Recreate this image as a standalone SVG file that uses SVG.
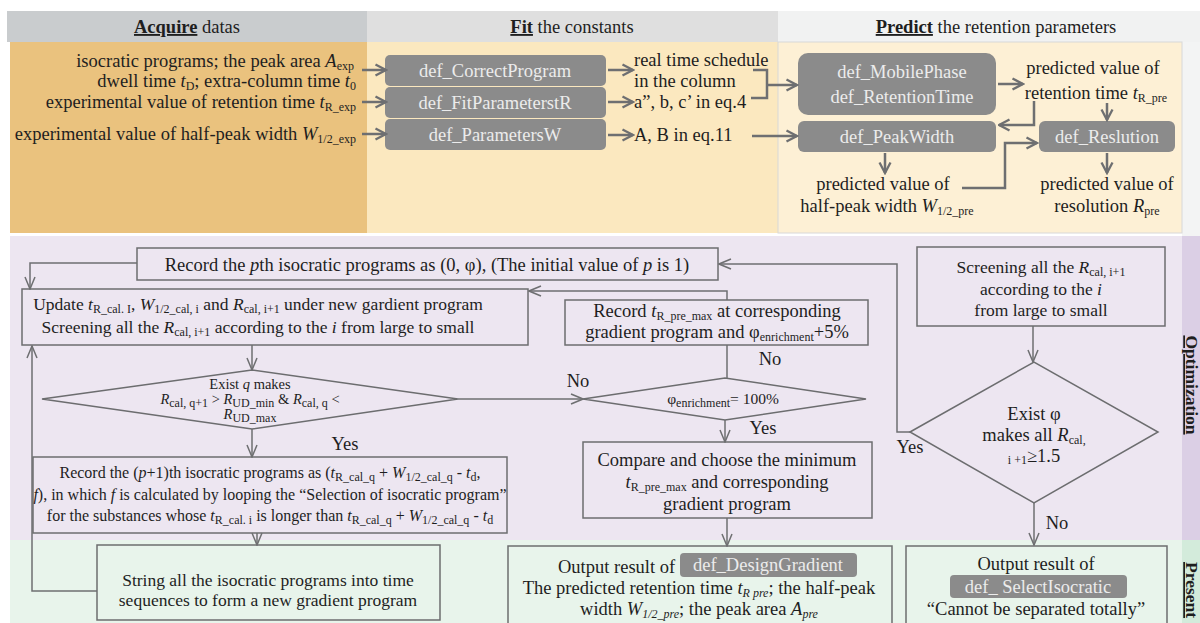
<svg xmlns="http://www.w3.org/2000/svg" width="1200" height="623" viewBox="0 0 1200 623">
<defs>
<style>
.t{font-family:"Liberation Serif","Times New Roman",serif;font-size:18.5px;fill:#1e1e1e}
.m{text-anchor:middle}
.e{text-anchor:end}
.md{font-size:17.5px}
.sm{font-size:16px}
.xs{font-size:14.5px}
.d2{font-size:15.5px}
.sb{font-size:12px}
.i{font-style:italic}
.b{font-weight:bold}
.u{text-decoration:underline}
.gr{fill:#8b8b8b}
.gt{font-family:"Liberation Serif","Times New Roman",serif;font-size:18.5px;fill:#ececec;text-anchor:middle}
.bx{fill:none;stroke:#6c6d6f;stroke-width:1.5}
.ln{fill:none;stroke:#6e6f71;stroke-width:1.5}
.lt{fill:none;stroke:#6e6f71;stroke-width:2.5}
</style>
<marker id="a" viewBox="0 0 14 14" refX="13" refY="7" markerWidth="14" markerHeight="14" markerUnits="userSpaceOnUse" orient="auto">
<path d="M1,2 L13,7 L1,12" fill="none" stroke="#6e6f71" stroke-width="1.5"/>
</marker>
<marker id="b" viewBox="0 0 14 14" refX="12.5" refY="7" markerWidth="14" markerHeight="14" markerUnits="userSpaceOnUse" orient="auto">
<path d="M2,1.5 L12.5,7 L2,12.5" fill="none" stroke="#6e6f71" stroke-width="2.3"/>
</marker>
</defs>

<g id="background">
<rect x="0" y="0" width="1200" height="623" fill="#ffffff"/>
<rect x="7" y="11" width="360" height="31" fill="#c9ccce"/>
<rect x="367" y="11" width="411" height="31" fill="#dfdfdf"/>
<rect x="778" y="11" width="422" height="31" fill="#f1f2f2"/>
<rect x="1182" y="42" width="18" height="194" fill="#f3f4f4"/>
<rect x="10" y="42" width="357" height="191" fill="#eac27e"/>
<rect x="367" y="42" width="411" height="191" fill="#fbe8bf"/>
<rect x="778" y="42" width="404" height="191" fill="#fdf0d5" stroke="#d8d8d8" stroke-width="1"/>
<rect x="10" y="236" width="1172" height="304" fill="#ede6f1"/>
<rect x="1182" y="236" width="18" height="304" fill="#dbcfe5"/>
<rect x="10" y="540" width="1172" height="83" fill="#e8f4eb"/>
<rect x="1182" y="540" width="18" height="83" fill="#d3ebdb"/>
</g>

<g id="headers">
<text class="t m" x="187" y="33"><tspan class="b u">Acquire</tspan> datas</text>
<text class="t m" x="572" y="33"><tspan class="b u">Fit</tspan> the constants</text>
<text class="t m" x="996" y="33"><tspan class="b u">Predict</tspan> the retention parameters</text>
<text class="t m b u md" transform="translate(1186,385) rotate(90)">Optimization</text>
<text class="t m b u md" transform="translate(1186,590) rotate(90)">Present</text>
</g>

<g id="inputs">
<text class="t e" x="354" y="67">isocratic programs; the peak area <tspan class="i">A</tspan><tspan class="sb" dy="3">exp</tspan></text>
<text class="t e" x="356" y="87">dwell time <tspan class="i">t</tspan><tspan class="sb" dy="3">D</tspan><tspan dy="-3">; extra-column time </tspan><tspan class="i">t</tspan><tspan class="sb" dy="3">0</tspan></text>
<text class="t e" x="356" y="108">experimental value of retention time <tspan class="i">t</tspan><tspan class="sb" dy="3">R_exp</tspan></text>
<text class="t e" x="356" y="140">experimental value of half-peak width <tspan class="i">W</tspan><tspan class="sb" dy="3">1/2_exp</tspan></text>
</g>

<g id="def_CorrectProgram">
<rect class="gr" x="385" y="55" width="221" height="31" rx="5"/>
<text class="gt" x="495" y="77">def_CorrectProgram</text>
</g>
<g id="def_FitParameterstR">
<rect class="gr" x="385" y="87" width="221" height="31" rx="5"/>
<text class="gt" x="495" y="109">def_FitParameterstR</text>
</g>
<g id="def_ParametersW">
<rect class="gr" x="385" y="119" width="221" height="31" rx="5"/>
<text class="gt" x="495" y="141">def_ParametersW</text>
</g>

<g id="fit_outputs">
<text class="t" x="634" y="66">real time schedule</text>
<text class="t" x="634" y="87">in the column</text>
<text class="t" x="634" y="108">a”, b, c’ in eq.4</text>
<text class="t" x="634" y="141">A, B in eq.11</text>
</g>

<g id="def_MobilePhase">
<rect class="gr" x="798" y="53" width="198" height="62" rx="10"/>
<text class="gt md" x="902" y="78">def_MobilePhase</text>
<text class="gt md" x="902" y="103">def_RetentionTime</text>
</g>
<g id="def_PeakWidth">
<rect class="gr" x="798" y="121" width="198" height="31" rx="6"/>
<text class="gt" x="897" y="143">def_PeakWidth</text>
</g>
<g id="def_Reslution">
<rect class="gr" x="1039" y="121" width="136" height="31" rx="6"/>
<text class="gt" x="1107" y="143">def_Reslution</text>
</g>

<g id="predict_outputs">
<text class="t m" x="1093" y="74">predicted value of</text>
<text class="t m" x="1096" y="99">retention time <tspan class="i">t</tspan><tspan class="sb" dy="3">R_pre</tspan></text>
<text class="t m" x="883" y="190">predicted value of</text>
<text class="t m" x="887" y="212">half-peak width <tspan class="i">W</tspan><tspan class="sb" dy="3">1/2_pre</tspan></text>
<text class="t m" x="1107" y="190">predicted value of</text>
<text class="t m" x="1107" y="212">resolution <tspan class="i">R</tspan><tspan class="sb" dy="3">pre</tspan></text>
</g>

<g id="record_p">
<rect class="bx" x="137" y="248" width="581" height="32"/>
<text class="t m" x="427" y="271">Record the <tspan class="i">p</tspan>th isocratic programs as (0, φ), (The initial value of <tspan class="i">p</tspan> is 1)</text>
</g>
<g id="update">
<rect class="bx" x="22" y="289" width="506" height="56"/>
<text class="t m md" x="258" y="310">Update <tspan class="i">t</tspan><tspan class="sb" dy="3">R_cal. I</tspan><tspan dy="-3">, </tspan><tspan class="i">W</tspan><tspan class="sb" dy="3">1/2_cal, i</tspan><tspan dy="-3">  and </tspan><tspan class="i">R</tspan><tspan class="sb" dy="3">cal, i+1</tspan><tspan dy="-3"> under new gardient program</tspan></text>
<text class="t m md" x="258" y="333">Screening all the <tspan class="i">R</tspan><tspan class="sb" dy="3">cal, i+1</tspan><tspan dy="-3"> according to the </tspan><tspan class="i">i</tspan> from large to small</text>
</g>
<g id="record_tr">
<rect class="bx" x="565" y="300" width="303" height="45"/>
<text class="t m" x="717" y="317">Record <tspan class="i">t</tspan><tspan class="sb" dy="3">R_pre_max</tspan><tspan dy="-3"> at corresponding</tspan></text>
<text class="t m" x="717" y="338">gradient program  and φ<tspan class="sb" dy="3">enrichment</tspan><tspan dy="-3">+5%</tspan></text>
</g>
<g id="exist_q">
<polygon class="bx" points="42,399 252,370 458,399 252,429"/>
<text class="t m xs" x="250" y="389">Exist <tspan class="i">q</tspan> makes</text>
<text class="t m xs" x="250" y="404"><tspan class="i">R</tspan><tspan class="sb" dy="3">cal, q+1</tspan><tspan dy="-3"> &gt; </tspan><tspan class="i">R</tspan><tspan class="sb" dy="3">UD_min</tspan><tspan dy="-3"> &amp; </tspan><tspan class="i">R</tspan><tspan class="sb" dy="3">cal, q</tspan><tspan dy="-3"> &lt;</tspan></text>
<text class="t m xs" x="250" y="419"><tspan class="i">R</tspan><tspan class="sb" dy="3">UD_max</tspan></text>
</g>
<g id="phi_100">
<polygon class="bx" points="583,399 725,378 866,399 725,420"/>
<text class="t m d2" x="723" y="404">φ<tspan class="sb" dy="3">enrichment</tspan><tspan dy="-3">= 100%</tspan></text>
</g>
<g id="record_p1">
<rect class="bx" x="33" y="457" width="474" height="76"/>
<text class="t m sm" x="270" y="478">Record the (<tspan class="i">p</tspan>+1)th isocratic programs as (<tspan class="i">t</tspan><tspan class="sb" dy="3">R_cal_q</tspan><tspan dy="-3"> + </tspan><tspan class="i">W</tspan><tspan class="sb" dy="3">1/2_cal_q</tspan><tspan dy="-3"> - </tspan><tspan class="i">t</tspan><tspan class="sb" dy="3">d</tspan><tspan dy="-3">,</tspan></text>
<text class="t m sm" x="270" y="500"><tspan class="i">f</tspan>), in which <tspan class="i">f</tspan> is calculated by looping the  “Selection of isocratic program”</text>
<text class="t m sm" x="270" y="521">for the substances whose <tspan class="i">t</tspan><tspan class="sb" dy="3">R_cal. i</tspan><tspan dy="-3"> is longer than </tspan><tspan class="i">t</tspan><tspan class="sb" dy="3">R_cal_q</tspan><tspan dy="-3"> + </tspan><tspan class="i">W</tspan><tspan class="sb" dy="3">1/2_cal_q</tspan><tspan dy="-3"> - </tspan><tspan class="i">t</tspan><tspan class="sb" dy="3">d</tspan></text>
</g>
<g id="string_all">
<rect class="bx" x="97" y="545" width="343" height="75"/>
<text class="t m md" x="268" y="586">String all the isocratic programs into time</text>
<text class="t m md" x="268" y="606">sequences to form a new gradient program</text>
</g>
<g id="compare">
<rect class="bx" x="583" y="442" width="289" height="76"/>
<text class="t m" x="727" y="466">Compare and choose the minimum</text>
<text class="t m" x="727" y="488"><tspan class="i">t</tspan><tspan class="sb" dy="3">R_pre_max</tspan><tspan dy="-3"> and corresponding</tspan></text>
<text class="t m" x="727" y="510">gradient program</text>
</g>
<g id="output_gradient">
<rect class="bx" x="508" y="546" width="384" height="90"/>
<text class="t" x="558" y="573">Output result of</text>
<rect class="gr" x="680" y="553" width="177" height="24" rx="4"/>
<text class="gt" x="768" y="571">def_DesignGradient</text>
<text class="t m" x="699" y="594">The predicted retention time <tspan class="i">t</tspan><tspan class="sb i" dy="3">R pre</tspan><tspan dy="-3">; the half-peak</tspan></text>
<text class="t m" x="699" y="615">width <tspan class="i">W</tspan><tspan class="sb i" dy="3">1/2_pre</tspan><tspan dy="-3">; the peak area </tspan><tspan class="i">A</tspan><tspan class="sb i" dy="3">pre</tspan></text>
</g>
<g id="screening_right">
<rect class="bx" x="917" y="247" width="248" height="79"/>
<text class="t m md" x="1041" y="273">Screening all the <tspan class="i">R</tspan><tspan class="sb" dy="3">cal, i+1</tspan></text>
<text class="t m md" x="1041" y="295">according to the <tspan class="i">i</tspan></text>
<text class="t m md" x="1041" y="316">from large to small</text>
</g>
<g id="exist_phi">
<polygon class="bx" points="910,432 1034,362 1158,432 1034,503"/>
<text class="t m" x="1034" y="420">Exist φ</text>
<text class="t m" x="1034" y="441">makes all <tspan class="i">R</tspan><tspan class="sb" dy="3">cal,</tspan></text>
<text class="t m" x="1034" y="462"><tspan class="sb" dy="2">i +1</tspan><tspan dy="-2">≥1.5</tspan></text>
</g>
<g id="output_isocratic">
<rect class="bx" x="906" y="546" width="261" height="90"/>
<text class="t m" x="1036" y="570">Output result of</text>
<rect class="gr" x="950" y="575" width="177" height="23" rx="4"/>
<text class="gt" x="1038" y="593">def_ SelectIsocratic</text>
<text class="t m" x="1036" y="615">“Cannot be separated totally”</text>
</g>

<g id="labels">
<text class="t m" x="770" y="365">No</text>
<text class="t m" x="578" y="387">No</text>
<text class="t m" x="763" y="434">Yes</text>
<text class="t m" x="345" y="450">Yes</text>
<text class="t m" x="910" y="453">Yes</text>
<text class="t m" x="1057" y="529">No</text>
</g>

<g id="connectors">
<line class="lt" x1="362" y1="70" x2="386" y2="70" marker-end="url(#b)"/>
<line class="lt" x1="362" y1="102" x2="386" y2="102" marker-end="url(#b)"/>
<line class="lt" x1="362" y1="134" x2="386" y2="134" marker-end="url(#b)"/>
<line class="lt" x1="608" y1="70" x2="633" y2="70" marker-end="url(#b)"/>
<line class="lt" x1="608" y1="102" x2="633" y2="102" marker-end="url(#b)"/>
<line class="lt" x1="608" y1="135" x2="633" y2="135" marker-end="url(#b)"/>
<polyline class="lt" points="753,70 767,70 767,98 751,98"/>
<line class="lt" x1="767" y1="85" x2="797" y2="85" marker-end="url(#b)"/>
<line class="lt" x1="752" y1="136" x2="797" y2="136" marker-end="url(#b)"/>
<line class="lt" x1="998" y1="84" x2="1023" y2="84" marker-end="url(#b)"/>
<line class="lt" x1="1107" y1="103" x2="1107" y2="120" marker-end="url(#b)"/>
<polyline class="lt" points="1034,101 1034,125 999,125" marker-end="url(#b)"/>
<line class="lt" x1="885" y1="153" x2="885" y2="173" marker-end="url(#b)"/>
<polyline class="lt" points="962,188 1005,188 1005,143 1037,143" marker-end="url(#b)"/>
<line class="lt" x1="1107" y1="153" x2="1107" y2="173" marker-end="url(#b)"/>

<polyline class="ln" points="137,263 30,263 30,289" marker-end="url(#a)"/>
<polyline class="ln" points="727,300 727,291 529,291" marker-end="url(#a)"/>
<line class="ln" x1="252" y1="345" x2="252" y2="370" marker-end="url(#a)"/>
<line class="ln" x1="458" y1="399" x2="583" y2="399" marker-end="url(#a)"/>
<line class="ln" x1="727" y1="345" x2="727" y2="378"/>
<line class="ln" x1="725" y1="420" x2="725" y2="442" marker-end="url(#a)"/>
<line class="ln" x1="252" y1="429" x2="252" y2="457" marker-end="url(#a)"/>
<line class="ln" x1="257" y1="533" x2="257" y2="545" marker-end="url(#a)"/>
<polyline class="ln" points="97,591 32,591 32,346" marker-end="url(#a)"/>
<line class="ln" x1="727" y1="518" x2="727" y2="546" marker-end="url(#a)"/>
<line class="ln" x1="1033" y1="326" x2="1033" y2="362" marker-end="url(#a)"/>
<polyline class="ln" points="910,432 897,432 897,264 719,264" marker-end="url(#a)"/>
<line class="ln" x1="1034" y1="503" x2="1034" y2="545" marker-end="url(#a)"/>
</g>
</svg>
